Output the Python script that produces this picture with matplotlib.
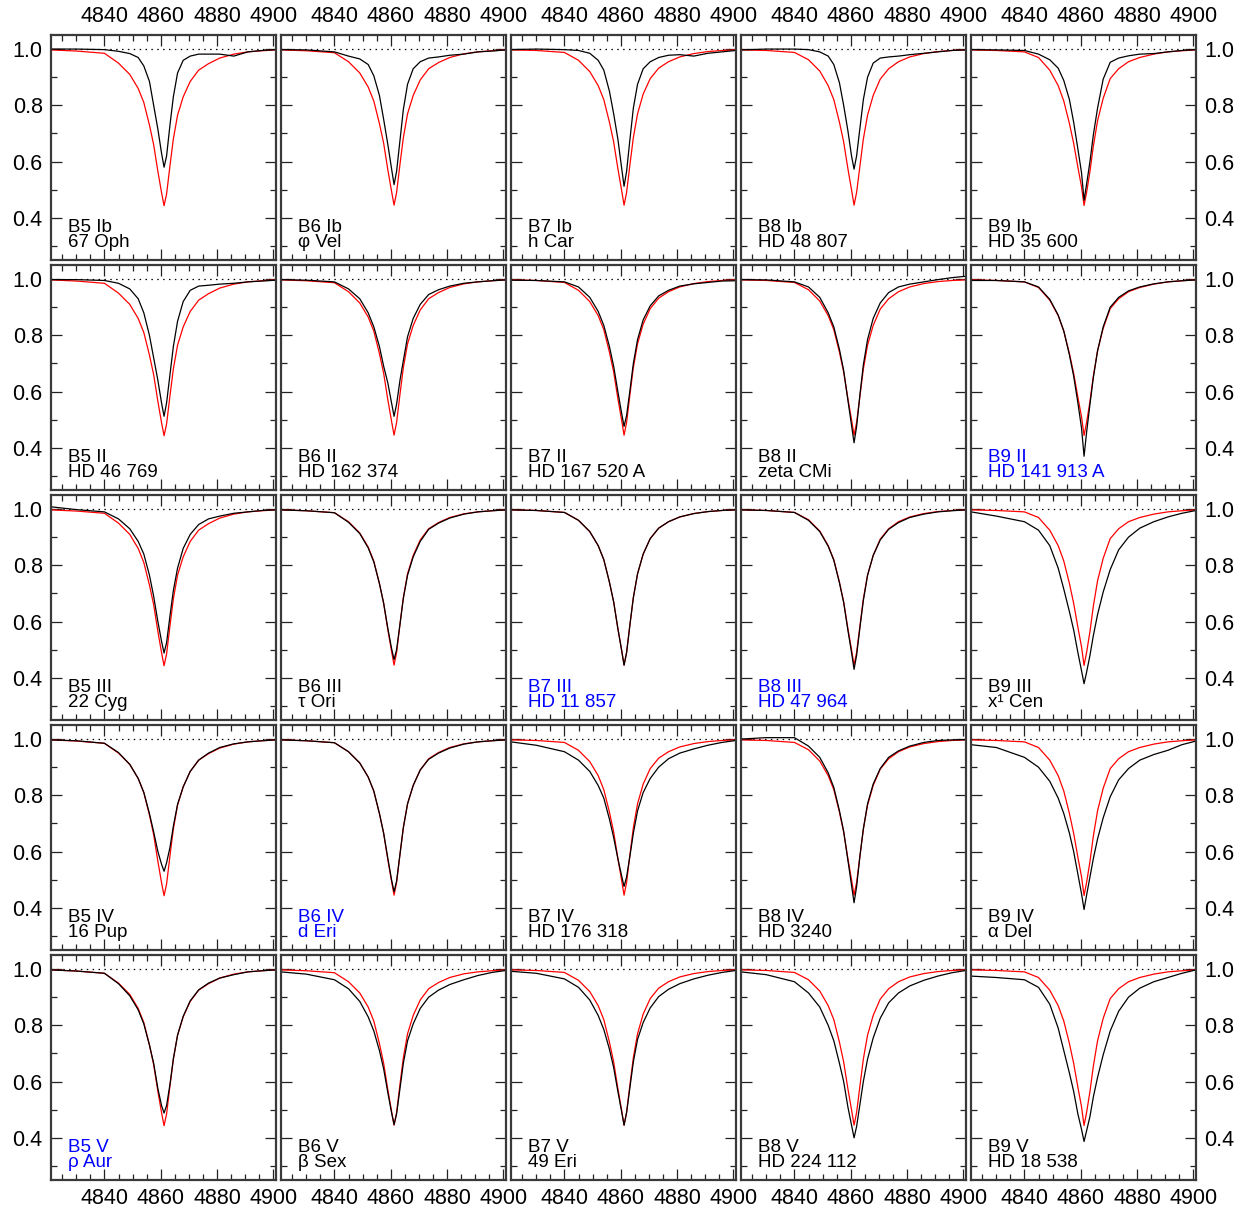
import matplotlib
matplotlib.use('Agg')
import matplotlib.pyplot as plt
from matplotlib.ticker import MultipleLocator, FormatStrFormatter

plt.rcParams['font.family'] = ['Liberation Sans', 'DejaVu Sans']

# wavelength points (Angstrom) at which the profiles were read
wave = [4821, 4830, 4840, 4845, 4849, 4852, 4854, 4856, 4857.5, 4859, 4860.3, 4861.2,
        4862.1, 4863.3, 4864.5, 4866, 4868, 4870.5, 4873.5, 4877, 4881, 4886, 4891, 4896, 4901]

# red comparison profiles, one per spectral type column
red_b5 = [0.997, 0.993, 0.985, 0.95, 0.91, 0.86, 0.81, 0.73, 0.66, 0.565, 0.49, 0.443,
          0.485, 0.585, 0.68, 0.765, 0.83, 0.885, 0.925, 0.948, 0.968, 0.982, 0.99, 0.994, 0.997]
red_b6 = [0.997, 0.994, 0.987, 0.955, 0.915, 0.865, 0.815, 0.735, 0.665, 0.57, 0.495, 0.445,
          0.49, 0.59, 0.685, 0.77, 0.835, 0.89, 0.93, 0.952, 0.97, 0.983, 0.99, 0.994, 0.997]
red_b7 = [0.997, 0.995, 0.988, 0.96, 0.92, 0.87, 0.82, 0.74, 0.67, 0.575, 0.5, 0.445,
          0.49, 0.59, 0.685, 0.77, 0.84, 0.895, 0.932, 0.955, 0.972, 0.984, 0.991, 0.995, 0.997]
red_b8 = [0.997, 0.995, 0.988, 0.962, 0.922, 0.87, 0.82, 0.74, 0.67, 0.575, 0.5, 0.445,
          0.49, 0.585, 0.68, 0.765, 0.835, 0.893, 0.93, 0.955, 0.972, 0.984, 0.991, 0.995, 0.997]
red_b9 = [0.997, 0.995, 0.99, 0.97, 0.925, 0.87, 0.815, 0.735, 0.665, 0.58, 0.51, 0.444,
          0.49, 0.565, 0.655, 0.745, 0.825, 0.895, 0.93, 0.955, 0.97, 0.982, 0.99, 0.994, 0.997]

# black observed profiles
b5_ib = [1.0, 1.0, 0.998, 0.992, 0.984, 0.97, 0.94, 0.885, 0.8, 0.715, 0.63, 0.58,
         0.62, 0.73, 0.83, 0.915, 0.96, 0.975, 0.982, 0.982, 0.982, 0.975, 0.99, 0.995, 0.998]
b6_ib = [0.998, 0.997, 0.99, 0.975, 0.965, 0.945, 0.905, 0.835, 0.75, 0.66, 0.575, 0.518,
         0.565, 0.675, 0.785, 0.875, 0.93, 0.955, 0.968, 0.972, 0.978, 0.982, 0.99, 0.993, 0.997]
b7_ib = [0.998, 1.0, 0.998, 0.995, 0.985, 0.96, 0.925, 0.85, 0.77, 0.68, 0.58, 0.512,
         0.565, 0.68, 0.79, 0.875, 0.93, 0.955, 0.97, 0.978, 0.98, 0.975, 0.985, 0.99, 0.995]
b8_ib = [0.997, 1.0, 1.0, 0.998, 0.99, 0.975, 0.945, 0.88, 0.8, 0.71, 0.62, 0.573,
         0.62, 0.72, 0.82, 0.9, 0.95, 0.968, 0.972, 0.975, 0.98, 0.985, 0.99, 0.995, 0.997]
b9_ib = [0.998, 0.997, 0.995, 0.982, 0.962, 0.932, 0.888, 0.82, 0.74, 0.645, 0.56, 0.462,
         0.52, 0.6, 0.695, 0.79, 0.893, 0.953, 0.968, 0.976, 0.982, 0.984, 0.99, 0.995, 0.998]

b5_ii = [0.998, 0.998, 0.995, 0.985, 0.965, 0.93, 0.88, 0.8, 0.72, 0.64, 0.56, 0.512,
         0.56, 0.66, 0.76, 0.85, 0.92, 0.96, 0.975, 0.978, 0.982, 0.985, 0.99, 0.993, 0.996]
b6_ii = [0.998, 0.996, 0.99, 0.965, 0.93, 0.88, 0.83, 0.76, 0.69, 0.63, 0.56, 0.512,
         0.555, 0.64, 0.71, 0.795, 0.86, 0.91, 0.945, 0.962, 0.975, 0.985, 0.99, 0.994, 0.997]
b7_ii = [0.996, 0.995, 0.99, 0.972, 0.935, 0.885, 0.835, 0.76, 0.69, 0.6, 0.525, 0.476,
         0.515, 0.605, 0.7, 0.785, 0.855, 0.905, 0.94, 0.96, 0.975, 0.983, 0.988, 0.993, 0.994]
b8_ii = [0.998, 0.997, 0.99, 0.972, 0.935, 0.88, 0.83, 0.75, 0.675, 0.57, 0.48, 0.418,
         0.475, 0.59, 0.695, 0.785, 0.86, 0.915, 0.952, 0.972, 0.982, 0.99, 0.998, 1.005, 1.01]
b9_ii = [0.995, 0.995, 0.99, 0.972, 0.928, 0.872, 0.815, 0.73, 0.655, 0.56, 0.47, 0.37,
         0.455, 0.555, 0.65, 0.745, 0.83, 0.9, 0.935, 0.958, 0.972, 0.983, 0.99, 0.994, 0.997]

b5_iii = [1.008, 0.998, 0.99, 0.965, 0.93, 0.885, 0.84, 0.765, 0.69, 0.6, 0.53, 0.488,
          0.525, 0.62, 0.71, 0.79, 0.86, 0.91, 0.945, 0.965, 0.975, 0.985, 0.99, 0.995, 0.997]
b6_iii = [0.997, 0.994, 0.987, 0.953, 0.913, 0.862, 0.812, 0.735, 0.665, 0.575, 0.505, 0.465,
          0.5, 0.59, 0.683, 0.765, 0.83, 0.885, 0.928, 0.95, 0.968, 0.982, 0.99, 0.994, 0.997]
b7_iii = [0.997, 0.995, 0.988, 0.96, 0.92, 0.87, 0.82, 0.74, 0.67, 0.575, 0.5, 0.445,
          0.49, 0.59, 0.685, 0.77, 0.84, 0.895, 0.932, 0.955, 0.972, 0.984, 0.991, 0.995, 0.997]
b8_iii = [0.997, 0.995, 0.988, 0.96, 0.92, 0.868, 0.818, 0.738, 0.668, 0.57, 0.49, 0.43,
          0.48, 0.58, 0.675, 0.765, 0.835, 0.89, 0.928, 0.952, 0.97, 0.982, 0.99, 0.994, 0.997]
b9_iii = [0.99, 0.975, 0.955, 0.925, 0.87, 0.79, 0.715, 0.635, 0.57, 0.49, 0.425, 0.379,
          0.42, 0.48, 0.55, 0.625, 0.705, 0.785, 0.855, 0.9, 0.932, 0.955, 0.972, 0.985, 0.995]

b5_iv = [0.997, 0.994, 0.985, 0.952, 0.91, 0.86, 0.81, 0.735, 0.67, 0.6, 0.555, 0.53,
         0.56, 0.615, 0.69, 0.768, 0.83, 0.885, 0.925, 0.95, 0.97, 0.983, 0.99, 0.994, 0.997]
b6_iv = [0.997, 0.994, 0.987, 0.955, 0.915, 0.865, 0.815, 0.735, 0.665, 0.575, 0.5, 0.457,
         0.495, 0.59, 0.685, 0.77, 0.835, 0.89, 0.928, 0.95, 0.968, 0.982, 0.99, 0.994, 0.997]
b7_iv = [0.99, 0.978, 0.955, 0.925, 0.885, 0.835, 0.79, 0.715, 0.65, 0.575, 0.515, 0.476,
         0.51, 0.585, 0.665, 0.745, 0.81, 0.86, 0.9, 0.93, 0.95, 0.965, 0.978, 0.988, 0.995]
b8_iv = [1.0, 1.005, 1.005, 0.975, 0.935, 0.88, 0.828, 0.745, 0.672, 0.57, 0.48, 0.418,
         0.475, 0.585, 0.68, 0.77, 0.84, 0.895, 0.935, 0.958, 0.975, 0.988, 0.995, 0.997, 0.998]
b9_iv = [0.98, 0.97, 0.935, 0.9, 0.85, 0.79, 0.735, 0.665, 0.6, 0.52, 0.45, 0.394,
         0.445, 0.51, 0.575, 0.645, 0.72, 0.795, 0.855, 0.895, 0.925, 0.945, 0.96, 0.98, 0.993]

b5_v = [0.997, 0.993, 0.985, 0.948, 0.905, 0.855, 0.805, 0.73, 0.665, 0.575, 0.515, 0.488,
        0.515, 0.59, 0.68, 0.765, 0.832, 0.887, 0.926, 0.95, 0.968, 0.98, 0.99, 0.994, 0.997]
b6_v = [0.99, 0.982, 0.962, 0.93, 0.885, 0.83, 0.78, 0.71, 0.645, 0.56, 0.49, 0.447,
        0.485, 0.575, 0.665, 0.745, 0.805, 0.86, 0.9, 0.925, 0.945, 0.962, 0.977, 0.988, 0.995]
b7_v = [0.992, 0.985, 0.965, 0.935, 0.89, 0.835, 0.785, 0.715, 0.65, 0.565, 0.495, 0.445,
        0.49, 0.58, 0.67, 0.75, 0.81, 0.862, 0.902, 0.928, 0.948, 0.965, 0.978, 0.988, 0.995]
b8_v = [0.99, 0.98, 0.955, 0.915, 0.865, 0.8, 0.745, 0.665, 0.6, 0.51, 0.445, 0.4,
        0.44, 0.52, 0.6, 0.68, 0.755, 0.825, 0.88, 0.915, 0.94, 0.96, 0.975, 0.987, 0.995]
b9_v = [0.975, 0.97, 0.962, 0.935, 0.875, 0.79, 0.71, 0.63, 0.565, 0.485, 0.43, 0.387,
        0.425, 0.476, 0.545, 0.615, 0.695, 0.78, 0.85, 0.9, 0.932, 0.955, 0.97, 0.985, 0.997]

spec_types = ['B5', 'B6', 'B7', 'B8', 'B9']
lum_classes = ['Ib', 'II', 'III', 'IV', 'V']
star_names = [
    ['67 Oph', 'φ Vel', 'h Car', 'HD 48 807', 'HD 35 600'],
    ['HD 46 769', 'HD 162 374', 'HD 167 520 A', 'zeta CMi', 'HD 141 913 A'],
    ['22 Cyg', 'τ Ori', 'HD 11 857', 'HD 47 964', 'x¹ Cen'],
    ['16 Pup', 'd Eri', 'HD 176 318', 'HD 3240', 'α Del'],
    ['ρ Aur', 'β Sex', '49 Eri', 'HD 224 112', 'HD 18 538'],
]
# (row, column) of the panels whose label is blue
standards = [(1, 4), (2, 2), (2, 3), (3, 1), (4, 0)]

reds = [red_b5, red_b6, red_b7, red_b8, red_b9]
blacks = [
    [b5_ib, b6_ib, b7_ib, b8_ib, b9_ib],
    [b5_ii, b6_ii, b7_ii, b8_ii, b9_ii],
    [b5_iii, b6_iii, b7_iii, b8_iii, b9_iii],
    [b5_iv, b6_iv, b7_iv, b8_iv, b9_iv],
    [b5_v, b6_v, b7_v, b8_v, b9_v],
]

W, H = 1244, 1212
fig = plt.figure(figsize=(W / 100, H / 100), dpi=100)

fs = 13.5        # panel labels
fs_tick = 15.5   # tick labels
for r in range(5):
    for c in range(5):
        left = (51 + 230 * c) / W
        bottom = 1 - (35 + 230 * r + 225) / H
        ax = fig.add_axes([left, bottom, 225 / W, 225 / H])

        ax.axhline(1.0, color='black', lw=0.9, ls=(0, (1.2, 3.5)))
        ax.plot(wave, reds[c], color='#ff0000', lw=0.9)
        ax.plot(wave, blacks[r][c], color='black', lw=0.9)

        ax.set_xlim(4821, 4901)
        ax.set_ylim(0.25, 1.05)
        ax.xaxis.set_major_locator(MultipleLocator(20))
        ax.xaxis.set_minor_locator(MultipleLocator(5))
        ax.yaxis.set_major_locator(MultipleLocator(0.2))
        ax.yaxis.set_minor_locator(MultipleLocator(0.1))
        ax.xaxis.set_major_formatter(FormatStrFormatter('%d'))
        ax.yaxis.set_major_formatter(FormatStrFormatter('%.1f'))

        ax.tick_params(which='both', direction='in', top=True, right=True,
                       width=0.9, color='#222222', labelsize=fs_tick, pad=6)
        ax.tick_params(which='major', length=8)
        ax.tick_params(which='minor', length=4.5)
        ax.tick_params(labelbottom=(r == 4), labeltop=(r == 0),
                       labelleft=(c == 0), labelright=(c == 4))
        for sp in ax.spines.values():
            sp.set_linewidth(1.6)
            sp.set_color('#3a3a3a')

        col = '#0000ff' if (r, c) in standards else 'black'
        ax.text(0.076, 0.124, f'{spec_types[c]} {lum_classes[r]}', transform=ax.transAxes,
                fontsize=fs, color=col, va='baseline', ha='left')
        ax.text(0.076, 0.057, star_names[r][c], transform=ax.transAxes,
                fontsize=fs, color=col, va='baseline', ha='left')

fig.savefig('out.png', dpi=100)
